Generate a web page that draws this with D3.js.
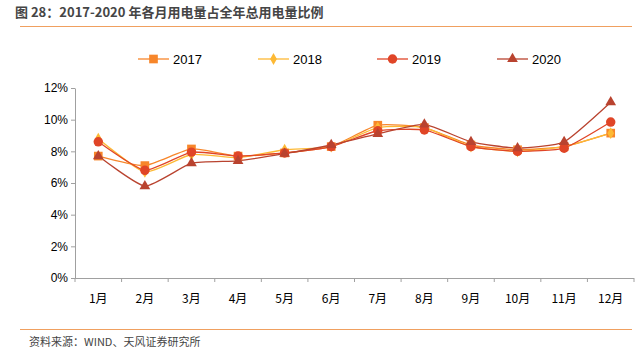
<!DOCTYPE html>
<html><head><meta charset="utf-8">
<script src="https://cdn.jsdelivr.net/npm/d3@7"></script>
<style>body{margin:0;background:#fff}svg{display:block;font-family:"Liberation Sans","Noto Sans CJK SC",sans-serif}</style>
</head><body><svg id="c" width="639" height="362"></svg>
<script>
const months = ["1月","2月","3月","4月","5月","6月","7月","8月","9月","10月","11月","12月"];
const years = ["2017","2018","2019","2020"];
const v2017 = [7.7, 7.1, 8.15, 7.7, 7.9, 8.3, 9.65, 9.5, 8.4, 8.1, 8.3, 9.15];
const v2018 = [8.8, 6.7, 7.8, 7.6, 8.1, 8.3, 9.5, 9.5, 8.3, 8.0, 8.3, 9.15];
const v2019 = [8.6, 6.8, 7.95, 7.7, 7.9, 8.3, 9.3, 9.35, 8.3, 8.0, 8.2, 9.85];
const v2020 = [7.7, 5.8, 7.25, 7.4, 7.85, 8.4, 9.1, 9.7, 8.6, 8.2, 8.6, 11.1];
const yTicks = [0, 2, 4, 6, 8, 10, 12];

const seriesVals = [v2017, v2018, v2019, v2020];
const colors = ["#F7862A", "#FDB934", "#E04527", "#B9432F"];
const shapes = [d3.symbolSquare, d3.symbolDiamond, d3.symbolCircle, d3.symbolTriangle];
const sizes = [75, 40, 70, 50];

const svg = d3.select("#c");
const L = 75, R = 634, T = 88, B = 278;
const x = d3.scaleBand().domain(months).range([L, R]);
const y = d3.scaleLinear().domain([0, 12]).range([B, T]);

// title
svg.append("text").attr("x", 15).attr("y", 17).attr("font-size", 13).attr("font-weight", "bold")
  .attr("fill", "#454545").attr("font-family", "'Noto Sans CJK SC',sans-serif")
  .text("图 28：2017-2020 年各月用电量占全年总用电量比例");
svg.append("line").attr("x1", 20).attr("x2", 632).attr("y1", 26.5).attr("y2", 26.5)
  .attr("stroke", "#F0A060").attr("stroke-width", 1.2);
svg.append("line").attr("x1", 20).attr("x2", 632).attr("y1", 329.5).attr("y2", 329.5)
  .attr("stroke", "#F0A060").attr("stroke-width", 1.2);
svg.append("text").attr("x", 29).attr("y", 346).attr("font-size", 11)
  .attr("fill", "#444").attr("font-family", "'Noto Sans CJK SC',sans-serif")
  .text("资料来源：WIND、天风证券研究所");

// axes
const ya = svg.append("g").attr("transform", `translate(${L},0)`)
  .call(d3.axisLeft(y).tickValues(yTicks).tickFormat(d => d + "%").tickSize(4).tickSizeOuter(0));
ya.select(".domain").attr("stroke", "#a0a0a0");
ya.selectAll(".tick line").attr("stroke", "#a0a0a0");
ya.selectAll("text").attr("font-size", 12).attr("fill", "#000").attr("x", -7);

const xa = svg.append("g").attr("transform", `translate(0,${B})`);
xa.append("line").attr("x1", L).attr("x2", R).attr("y1", 0.5).attr("y2", 0.5).attr("stroke", "#a0a0a0");
xa.selectAll(".tk").data(months.concat(["end"])).enter().append("line")
  .attr("x1", (d, i) => i < 12 ? x(d) : R).attr("x2", (d, i) => i < 12 ? x(d) : R)
  .attr("y1", 0).attr("y2", 4).attr("stroke", "#a0a0a0");
xa.selectAll(".lb").data(months).enter().append("text")
  .attr("x", d => x(d) + x.bandwidth() / 2).attr("y", 25).attr("text-anchor", "middle")
  .attr("font-size", 12).attr("fill", "#000").attr("font-family", "'Noto Sans CJK SC',sans-serif").text(d => d);

// lines
const line = d3.line().x((d, i) => x(months[i]) + x.bandwidth() / 2).y(d => y(d)).curve(d3.curveCardinal.tension(0.5));
seriesVals.forEach((vals, k) => {
  svg.append("path").attr("d", line(vals)).attr("fill", "none").attr("stroke", colors[k]).attr("stroke-width", 1.3);
});
seriesVals.forEach((vals, k) => {
  svg.selectAll(null).data(vals).enter().append("path")
    .attr("transform", (d, i) => `translate(${x(months[i]) + x.bandwidth() / 2},${y(d)})`)
    .attr("d", d3.symbol().type(shapes[k]).size(sizes[k])).attr("fill", colors[k]);
});

// legend
const legX = [138, 258, 377, 497];
years.forEach((yr, k) => {
  const g = svg.append("g").attr("transform", `translate(${legX[k]},59)`);
  g.append("line").attr("x1", 0).attr("x2", 31).attr("y1", 0).attr("y2", 0).attr("stroke", colors[k]).attr("stroke-width", 1.3);
  g.append("path").attr("transform", "translate(15.5,0)").attr("d", d3.symbol().type(shapes[k]).size(sizes[k])).attr("fill", colors[k]);
  g.append("text").attr("x", 35).attr("y", 5).attr("font-size", 13).attr("fill", "#000").text(yr);
});
</script></body></html>
